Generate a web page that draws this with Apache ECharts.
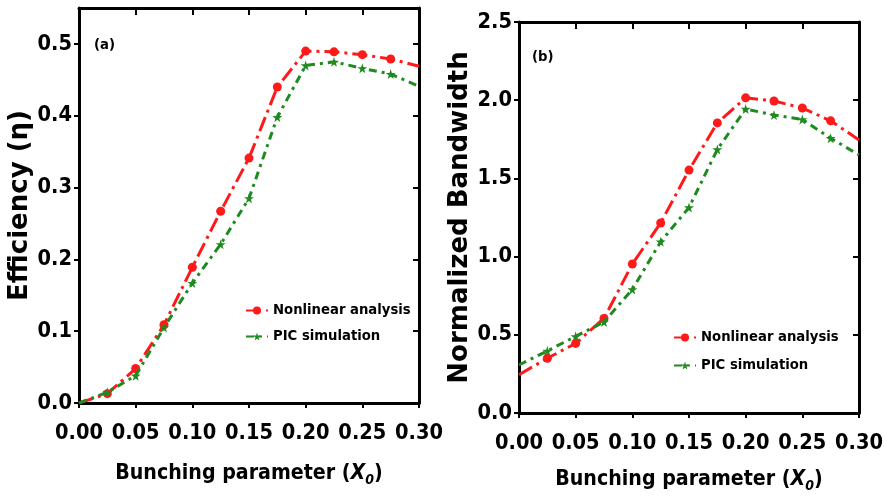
<!DOCTYPE html>
<html>
<head>
<meta charset="utf-8">
<script src="https://cdn.jsdelivr.net/npm/echarts@6/dist/echarts.min.js"></script>
<style>
html,body{margin:0;padding:0;background:#fff;}
#chart{width:884px;height:499px;}
</style>
</head>
<body>
<div id="chart"></div>
<script>
// ---- data ----
const xValues = [0, 0.025, 0.05, 0.075, 0.1, 0.125, 0.15, 0.175, 0.2, 0.225, 0.25, 0.275, 0.3];
const effNonlinear = [0.0, 0.013, 0.048, 0.109, 0.189, 0.267, 0.341, 0.44, 0.49, 0.489, 0.485, 0.479, 0.469];
const effPIC = [0.0, 0.015, 0.038, 0.105, 0.167, 0.221, 0.285, 0.398, 0.47, 0.475, 0.466, 0.458, 0.441];
const bwNonlinear = [0.245, 0.35, 0.445, 0.605, 0.953, 1.215, 1.553, 1.855, 2.015, 1.995, 1.95, 1.868, 1.746];
const bwPIC = [0.307, 0.397, 0.49, 0.582, 0.79, 1.095, 1.314, 1.685, 1.944, 1.905, 1.877, 1.757, 1.65];
const seriesNames = ['Nonlinear analysis', 'PIC simulation'];
const panelLabels = ['(a)', '(b)'];
const yTitles = ['Efficiency (\u03b7)', 'Normalized Bandwidth'];

// ---- font helpers ----
const cvs = document.createElement('canvas').getContext('2d');
function textW(font, s) { cvs.font = font; return cvs.measureText(s).width; }
function available(fam) {
  const s = 'abcdefghijklmnopqrstuvwxyz0123456789';
  return ['monospace', 'serif'].some(g => textW('bold 100px "' + fam + '",' + g, s) !== textW('bold 100px ' + g, s));
}
const narrowCands = ['Liberation Sans Narrow', 'Arial Narrow', 'DejaVu Sans Condensed', 'Roboto Condensed', 'Liberation Sans', 'DejaVu Sans'];
let NARROW_FAM = 'sans-serif';
for (const f of narrowCands) { if (available(f)) { NARROW_FAM = '"' + f + '"'; break; } }
const NARROW = NARROW_FAM + ',sans-serif';
function fit(s, target, maxSize) {
  const w = textW('bold 100px ' + NARROW, s) / 100;
  return Math.min(maxSize, Math.round(target / w * 10) / 10);
}
const WIDE = '"DejaVu Sans",sans-serif';
const TICK_SIZE = fit('0.05', 48, 29);
const NAME_SIZE = fit('Bunching parameter (X0)', 272, 29);
const LEG_SIZE = fit('Nonlinear analysis', 138, 20);
const LAB_SIZE = fit('(a)', 21, 17);

const RED = '#ff1a1a';
const GREEN = '#1f8a1f';
const STAR = 'path://M50,0 L61,35 L98,35 L68,57 L79,91 L50,70 L21,91 L32,57 L2,35 L39,35 Z';

function pts(ys) {
  return xValues.map((x, i) => {
    const d = { value: [x, ys[i]] };
    if (i === 0 || i === xValues.length - 1) d.symbol = 'none';
    return d;
  });
}

const tickFont = { fontFamily: NARROW, fontWeight: 'bold', fontSize: TICK_SIZE, color: '#000' };
const xName = 'Bunching parameter ({i|X}{s|0})';
const xNameStyle = {
  fontFamily: NARROW, fontWeight: 'bold', fontSize: NAME_SIZE, color: '#000',
  rich: {
    i: { fontFamily: NARROW, fontWeight: 'bold', fontStyle: 'italic', fontSize: NAME_SIZE, color: '#000' },
    s: { fontFamily: NARROW, fontWeight: 'bold', fontStyle: 'italic', fontSize: Math.round(NAME_SIZE * 0.65), color: '#000', verticalAlign: 'bottom', padding: [14, 0, 0, 0] }
  }
};
const axLine = { show: true, onZero: false, lineStyle: { color: '#000', width: 3 } };

function bottomX(grid, gap) {
  return {
    type: 'value', gridIndex: grid, position: 'bottom', min: 0, max: 0.3, interval: 0.05,
    axisLine: axLine, splitLine: { show: false },
    axisTick: { show: true, inside: false, length: 5, lineStyle: { color: '#000', width: 2 } },
    axisLabel: Object.assign({ margin: 19, formatter: v => v.toFixed(2) }, tickFont),
    name: xName, nameLocation: 'middle', nameGap: gap, nameTextStyle: xNameStyle
  };
}
function topX(grid) {
  return {
    type: 'value', gridIndex: grid, position: 'top', min: 0, max: 0.3, interval: 0.05,
    axisLine: axLine, splitLine: { show: false },
    axisTick: { show: true, inside: true, length: 7, lineStyle: { color: '#000', width: 2 } },
    axisLabel: { show: false }
  };
}
function leftY(grid, max, interval, title, gap) {
  return {
    type: 'value', gridIndex: grid, position: 'left', min: 0, max: max, interval: interval,
    axisLine: axLine, splitLine: { show: false },
    axisTick: { show: true, inside: false, length: 5, lineStyle: { color: '#000', width: 2 } },
    axisLabel: Object.assign({ margin: 7, showMaxLabel: max === 2.5, formatter: v => v.toFixed(1) }, tickFont),
    name: title, nameLocation: 'middle', nameRotate: 90, nameGap: gap,
    nameTextStyle: { fontFamily: WIDE, fontWeight: 'bold', fontSize: 26, color: '#000' }
  };
}
function rightY(grid, max, interval) {
  return {
    type: 'value', gridIndex: grid, position: 'right', min: 0, max: max, interval: interval,
    axisLine: axLine, splitLine: { show: false },
    axisTick: { show: true, inside: true, length: 6, lineStyle: { color: '#000', width: 2 } },
    axisLabel: { show: false }
  };
}

function lineSeries(name, data, xi, yi, isRed) {
  return {
    type: 'line', name: name, xAxisIndex: xi, yAxisIndex: yi, data: data,
    symbol: isRed ? 'circle' : STAR, symbolSize: isRed ? 9 : 10,
    itemStyle: { color: isRed ? RED : GREEN },
    lineStyle: { color: isRed ? RED : GREEN, width: 3, type: isRed ? [15, 5, 3, 5] : [8, 5, 3, 5] },
    z: isRed ? 3 : 4
  };
}

const legendText = { fontFamily: NARROW, fontWeight: 'bold', fontSize: LEG_SIZE, color: '#000' };

const option = {
  backgroundColor: '#fff',
  animation: false,
  title: [
    { text: panelLabels[0], left: 89, top: 33, textStyle: { fontFamily: NARROW, fontWeight: 'bold', fontSize: LAB_SIZE, color: '#000' } },
    { text: panelLabels[1], left: 527, top: 45, textStyle: { fontFamily: NARROW, fontWeight: 'bold', fontSize: LAB_SIZE, color: '#000' } }
  ],
  grid: [
    { left: 79, top: 8, width: 340, height: 395, containLabel: false, outerBoundsMode: 'none' },
    { left: 519, top: 22, width: 340, height: 391, containLabel: false, outerBoundsMode: 'none' }
  ],
  xAxis: [bottomX(0, 56), topX(0), bottomX(1, 52), topX(1)],
  yAxis: [leftY(0, 0.55, 0.1, yTitles[0], 45), rightY(0, 0.55, 0.1), leftY(1, 2.5, 0.5, yTitles[1], 41), rightY(1, 2.5, 0.5)],
  legend: [
    { orient: 'vertical', left: 240, top: 298, itemWidth: 22, itemHeight: 10, itemGap: 11, data: seriesNames, textStyle: legendText, selectedMode: false },
    { orient: 'vertical', left: 668, top: 325, itemWidth: 22, itemHeight: 10, itemGap: 13, data: seriesNames, textStyle: legendText, selectedMode: false }
  ],
  series: [
    lineSeries(seriesNames[0], pts(effNonlinear), 0, 0, true),
    lineSeries(seriesNames[1], pts(effPIC), 0, 0, false),
    lineSeries(seriesNames[0], pts(bwNonlinear), 2, 2, true),
    lineSeries(seriesNames[1], pts(bwPIC), 2, 2, false)
  ]
};

const chart = echarts.init(document.getElementById('chart'), null, { renderer: 'canvas' });
chart.setOption(option);
</script>
</body>
</html>
